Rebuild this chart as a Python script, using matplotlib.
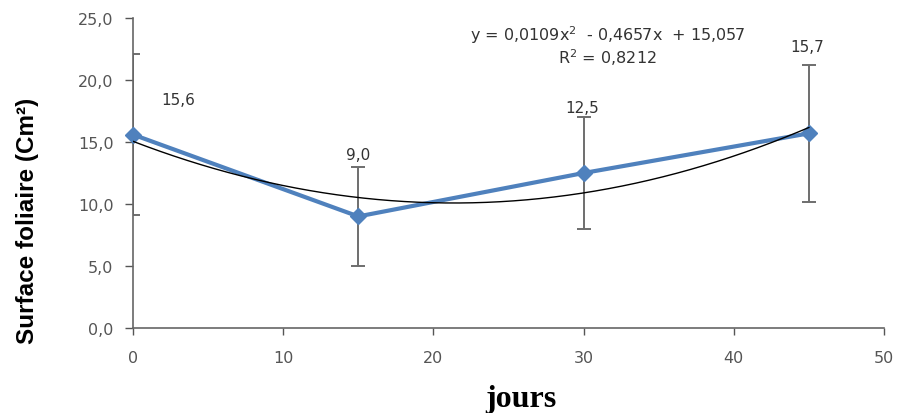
import numpy as np
import matplotlib.pyplot as plt

# donnees
jours = [0, 15, 30, 45]
surface = [15.6, 9.0, 12.5, 15.7]
erreur = [6.5, 4.0, 4.5, 5.5]
etiquettes = ["15,6", "9,0", "12,5", "15,7"]
# courbe de tendance polynomiale (coefficients affiches)
coef = [0.0109, -0.4657, 15.057]
equation = "y = 0,0109x$^{2}$  - 0,4657x  + 15,057"
r2 = "R$^{2}$ = 0,8212"

x_ticks = [0, 10, 20, 30, 40, 50]
y_ticks = [0, 5, 10, 15, 20, 25]

fig = plt.figure(figsize=(8.98, 4.14), dpi=100)
ax = fig.add_axes([0.1481, 0.2053, 0.8363, 0.7487])

bleu = '#4F81BD'
gris = '#6e6e6e'

ax.errorbar(jours, surface, yerr=erreur, fmt='none', ecolor=gris,
            elinewidth=1.4, capsize=5, capthick=1.4, zorder=2)
ax.plot(jours, surface, color=bleu, lw=3, marker='D', ms=8,
        markerfacecolor=bleu, markeredgecolor=bleu, zorder=3, clip_on=False)

xt = np.linspace(jours[0], jours[-1], 200)
ax.plot(xt, np.polyval(coef, xt), color='black', lw=1, zorder=4)

# etiquettes de donnees
offsets = [(3.0, 2.8), (0, 5.0), (-0.1, 5.3), (-0.1, 7.0)]
for x, y, t, (dx, dy) in zip(jours, surface, etiquettes, offsets):
    ax.text(x + dx, y + dy, t, ha='center', va='center', fontsize=11,
            color='#333333')

ax.text(31.6, 23.7, equation, ha='center', va='center', fontsize=11.5,
        color='#333333')
ax.text(31.6, 21.9, r2, ha='center', va='center', fontsize=11.5,
        color='#333333')

ax.set_xlim(0, 50)
ax.set_ylim(0, 25)
ax.set_xticks(x_ticks)
ax.set_xticklabels([str(v) for v in x_ticks])
ax.set_yticks(y_ticks)
ax.set_yticklabels([f"{v:.1f}".replace('.', ',') for v in y_ticks])
ax.tick_params(colors='#555555', labelsize=11.5, width=1, direction='out')
ax.tick_params(axis='y', length=6, pad=8)
ax.tick_params(axis='x', length=5, pad=11)
for s in ['top', 'right']:
    ax.spines[s].set_visible(False)
for s in ['left', 'bottom']:
    ax.spines[s].set_color('#666666')
    ax.spines[s].set_linewidth(1.2)

fig.text(0.0306, 0.466, "Surface foliaire (Cm²)", rotation=90, ha='center',
         va='center', fontsize=17.5, fontweight='bold', family='Liberation Sans')
fig.text(0.580, 0.018, "jours", ha='center', va='baseline', fontsize=23,
         fontweight='bold', family='Liberation Serif')

fig.savefig('out.png', dpi=100)
